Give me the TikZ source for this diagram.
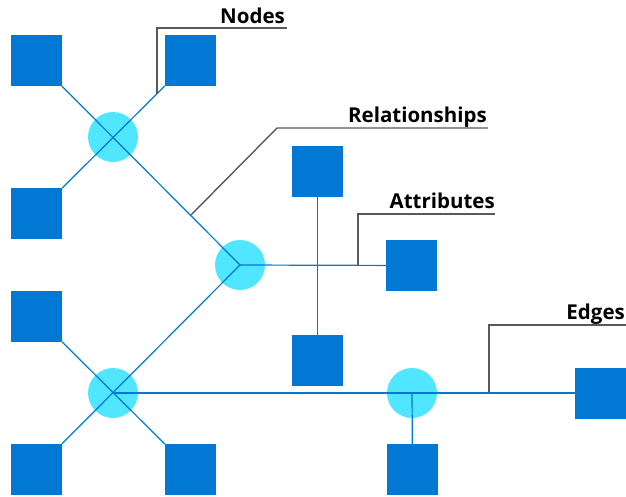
\documentclass[tikz,border=0pt]{standalone}
\usepackage{fontspec}
\setmainfont{Open Sans}
\definecolor{nodeblue}{HTML}{0078D4}
\definecolor{relcyan}{HTML}{50E6FF}
\definecolor{leadgray}{HTML}{595959}
\begin{document}
\begin{tikzpicture}[x=1pt, y=-1pt,
    entity/.style={draw=none, fill=nodeblue, rectangle, minimum size=51pt, inner sep=0pt},
    relation/.style={draw=none, fill=relcyan, circle, minimum size=50pt, inner sep=0pt},
    link/.style={draw=nodeblue, line width=1.2pt},
    leader/.style={draw=leadgray, line width=1.4pt},
    calloutlbl/.style={font=\bfseries\fontsize{20.5}{24}\selectfont, anchor=base east, inner sep=0pt}]
    \useasboundingbox (0,0) rectangle (626,496);

    % relationships
    \node (rel1) [relation] at (113,137) {};
    \node (rel2) [relation] at (240,265) {};
    \node (rel3) [relation] at (113,393) {};
    \node (rel4) [relation] at (412,393) {};

    % entities
    \node (ent1) [entity] at (36.5,60.5) {};
    \node (ent2) [entity] at (190.5,60.5) {};
    \node (ent3) [entity] at (36.5,213.5) {};
    \node (ent4) [entity] at (317.5,171.5) {};
    \node (ent5) [entity] at (411.5,265.5) {};
    \node (ent6) [entity] at (317.5,360.5) {};
    \node (ent7) [entity] at (36.5,316.5) {};
    \node (ent8) [entity] at (36.5,469.5) {};
    \node (ent9) [entity] at (190.5,469.5) {};
    \node (ent10) [entity] at (412.5,469.5) {};
    \node (ent11) [entity] at (600.5,393) {};

    % edges
    \draw[link] (ent1) -- (rel2.center);
    \draw[link] (ent2) -- (ent3);
    \draw[link] (rel2.center) -- (ent5);
    \draw[link] (ent4) -- (ent6);
    \draw[link] (ent8) -- (rel2.center);
    \draw[link] (ent7) -- (ent9);
    \draw[link] (rel3.center) -- (ent11);
    \draw[link] (rel4.center) -- (ent10);

    % callouts
    \coordinate (nodesfoot) at (157,94);
    \coordinate (nodesend) at (287,28);
    \coordinate (relfoot) at (191,215);
    \coordinate (relknee) at (277,128);
    \coordinate (relend) at (488,128);
    \coordinate (attfoot) at (358,265);
    \coordinate (attend) at (495,214);
    \coordinate (edgefoot) at (489,393);
    \coordinate (edgeend) at (626,325);

    \draw[leader] (nodesfoot) |- (nodesend);
    \draw[leader] (relfoot) -- (relknee) -- (relend);
    \draw[leader] (attfoot) |- (attend);
    \draw[leader] (edgefoot) |- (edgeend);

    \node (nodeslbl) [calloutlbl] at ([xshift=-2pt, yshift=5pt]nodesend) {Nodes};
    \node (rellbl) [calloutlbl] at ([xshift=-1pt, yshift=6pt]relend) {Relationships};
    \node (attlbl) [calloutlbl] at ([xshift=0pt, yshift=6pt]attend) {Attributes};
    \node (edgelbl) [calloutlbl] at ([xshift=-1pt, yshift=6pt]edgeend) {Edges};
\end{tikzpicture}
\end{document}
